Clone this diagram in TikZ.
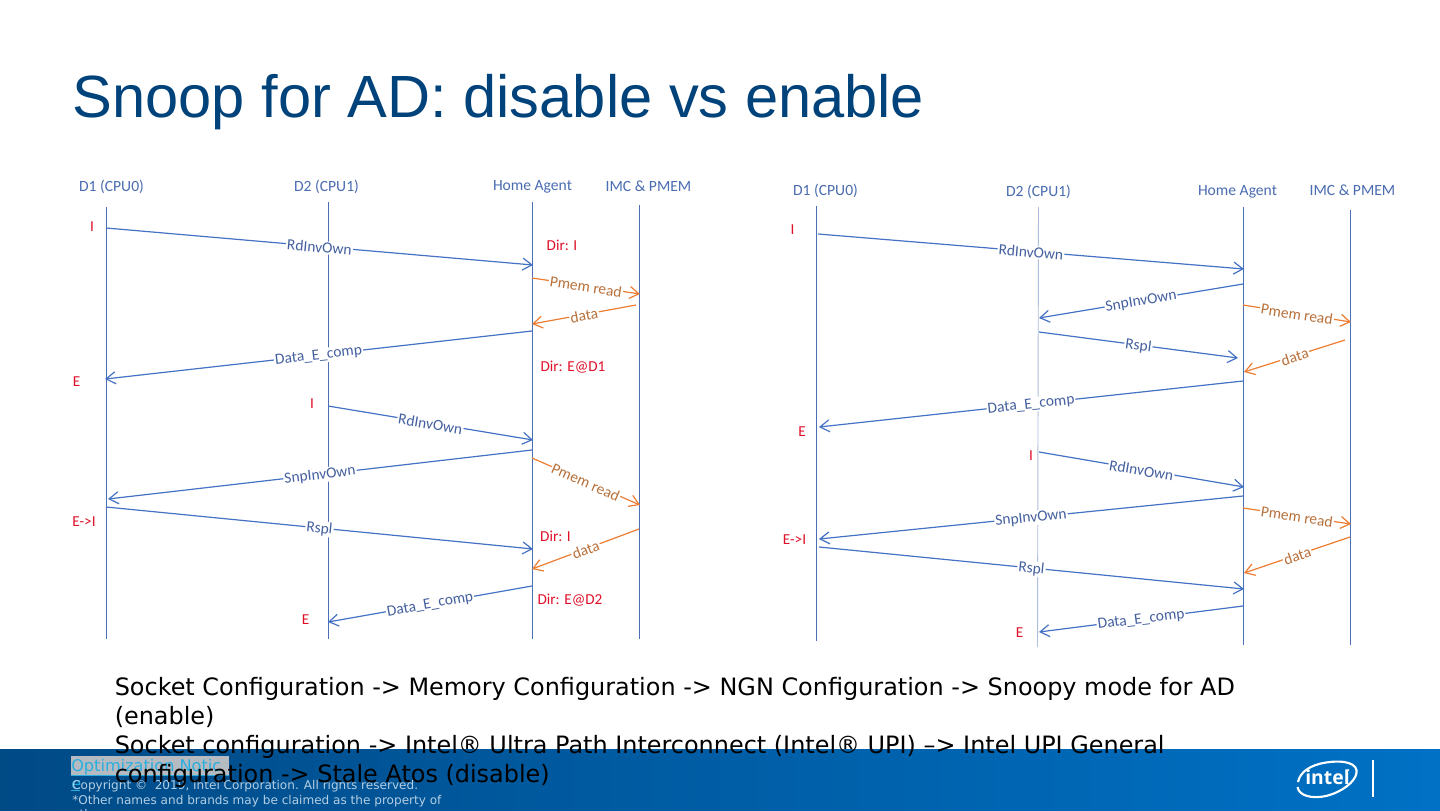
\documentclass[tikz,border=0pt]{standalone}
\usepackage{fontspec}
\setmainfont{Carlito}
\newfontfamily\titlefont{Liberation Sans}
\newfontfamily\bodyfont{DejaVu Sans}
\newfontfamily\logofont{Open Sans}
\usetikzlibrary{arrows.meta,shadings}
\definecolor{msgblue}{HTML}{4472C4}
\definecolor{lifeblue}{HTML}{4A6FB5}
\definecolor{msgorange}{HTML}{ED7D31}
\definecolor{lblblue}{HTML}{44609F}
\definecolor{lblorange}{HTML}{B8703A}
\definecolor{hdrblue}{HTML}{4A6CB0}
\definecolor{statered}{HTML}{E0102A}
\definecolor{titleblue}{HTML}{00427A}
\definecolor{footdark}{HTML}{004A86}
\definecolor{footlight}{HTML}{0071C5}
\definecolor{footgrey}{HTML}{B4CEE4}
\definecolor{linkblue}{HTML}{29AEE0}
\definecolor{linkbox}{HTML}{B5BBC0}
\tikzset{
  x=0.75pt,y=-0.75pt,
  life/.style={draw=lifeblue,line width=0.7pt},
  lifefaint/.style={draw=lifeblue!45,line width=0.7pt},
  msg/.style={draw=msgblue,line width=0.9pt,-{Straight Barb[length=7pt,width=9pt,line width=0.9pt]}},
  omsg/.style={draw=msgorange,line width=0.9pt,-{Straight Barb[length=7pt,width=9pt,line width=0.9pt]}},
  lbl/.style={sloped,fill=white,inner sep=0.8pt,text=lblblue,font=\fontsize{11.6}{13}\selectfont,pos=0.5,yshift=-0.6pt},
  olbl/.style={sloped,fill=white,inner sep=0.8pt,text=lblorange,font=\fontsize{11.6}{13}\selectfont,pos=0.5,yshift=-0.6pt},
  hdr/.style={text=hdrblue,font=\fontsize{11.7}{13}\selectfont,inner sep=0pt},
  state/.style={text=statered,font=\fontsize{11.4}{13}\selectfont,inner sep=0pt},
  bodyline/.style={anchor=base west,inner sep=0pt,text=black,font=\bodyfont\fontsize{17.94}{20}\selectfont},
  footline/.style={anchor=base west,inner sep=0pt,text=footgrey,font=\bodyfont\fontsize{9.05}{10}\selectfont},
  linkline/.style={anchor=base west,inner sep=0pt,text=linkblue,font=\bodyfont\fontsize{12.1}{13}\selectfont},
}
\begin{document}
\begin{tikzpicture}
\useasboundingbox (0,0) rectangle (1440,811);
\fill[white] (0,0) rectangle (1440,811);
\node[anchor=base west,inner sep=0pt,text=titleblue,font=\titlefont\fontsize{44.7}{54}\selectfont] (title) at (72.5,117) {Snoop for AD: disable vs enable};

% left headers
\node[hdr] (la) at (111.5,186.7) {D1 (CPU0)};
\node[hdr] (lb) at (326.5,186.7) {D2 (CPU1)};
\node[hdr] (lc) at (532.5,186.7) {Home Agent};
\node[hdr] (ld) at (648.5,186.7) {IMC \& PMEM};
% right headers
\node[hdr] (ra) at (825.5,191.2) {D1 (CPU0)};
\node[hdr] (rb) at (1038.5,191.7) {D2 (CPU1)};
\node[hdr] (rc) at (1237.5,191.7) {Home Agent};
\node[hdr] (rd) at (1352.5,190.7) {IMC \& PMEM};

% lifelines
\coordinate (a0) at (106.5,207); \coordinate (a1) at (106.5,639);
\coordinate (b0) at (328.5,202); \coordinate (b1) at (328.5,639);
\coordinate (c0) at (532.5,202); \coordinate (c1) at (532.5,639);
\coordinate (d0) at (639.5,205); \coordinate (d1) at (639.5,639);
\coordinate (e0) at (816.5,206); \coordinate (e1) at (816.5,641);
\coordinate (f0) at (1038.5,207); \coordinate (f1) at (1037.5,647);
\coordinate (g0) at (1243.5,207); \coordinate (g1) at (1243.5,645);
\coordinate (h0) at (1350.5,210); \coordinate (h1) at (1350.5,645);
\draw[life] (a0)--(a1);
\draw[life] (b0)--(b1);
\draw[life] (c0)--(c1);
\draw[life] (d0)--(d1);
\draw[life] (e0)--(e1);
\draw[lifefaint] (f0)--(f1);
\draw[life] (g0)--(g1);
\draw[life] (h0)--(h1);

% left message ends
\coordinate (m1s) at (106,228); \coordinate (m1e) at (533,265);
\coordinate (m2s) at (532,278); \coordinate (m2e) at (640,294);
\coordinate (m3s) at (636,305); \coordinate (m3e) at (532,324);
\coordinate (m4s) at (532,331); \coordinate (m4e) at (105,379);
\coordinate (m5s) at (328,406); \coordinate (m5e) at (533,440);
\coordinate (m6s) at (532,450); \coordinate (m6e) at (108,499);
\coordinate (m7s) at (532,458); \coordinate (m7e) at (640,505);
\coordinate (m8s) at (106,507); \coordinate (m8e) at (533,549);
\coordinate (m9s) at (639,529); \coordinate (m9e) at (532,569);
\coordinate (m10s) at (532,586); \coordinate (m10e) at (328,622);
\draw[msg] (m1s)--node[lbl]{RdInvOwn}(m1e);
\draw[omsg] (m2s)--node[olbl]{Pmem read}(m2e);
\draw[omsg] (m3s)--node[olbl]{data}(m3e);
\draw[msg] (m4s)--node[lbl]{Data\_E\_comp}(m4e);
\draw[msg] (m5s)--node[lbl]{RdInvOwn}(m5e);
\draw[msg] (m6s)--node[lbl]{SnpInvOwn}(m6e);
\draw[omsg] (m7s)--node[olbl]{Pmem read}(m7e);
\draw[msg] (m8s)--node[lbl]{Rspl}(m8e);
\draw[omsg] (m9s)--node[olbl]{data}(m9e);
\draw[msg] (m10s)--node[lbl]{Data\_E\_comp}(m10e);

% right message ends
\coordinate (n1s) at (818,234); \coordinate (n1e) at (1244,269);
\coordinate (n2s) at (1243,284); \coordinate (n2e) at (1039,318);
\coordinate (n3s) at (1243,305); \coordinate (n3e) at (1351,322);
\coordinate (n4s) at (1039,332); \coordinate (n4e) at (1238,358);
\coordinate (n5s) at (1345,340); \coordinate (n5e) at (1244,372);
\coordinate (n6s) at (1243,381); \coordinate (n6e) at (819,427);
\coordinate (n7s) at (1039,452); \coordinate (n7e) at (1244,487);
\coordinate (n8s) at (1243,496); \coordinate (n8e) at (819,539);
\coordinate (n9s) at (1243,508); \coordinate (n9e) at (1351,524);
\coordinate (n10s) at (1350,537); \coordinate (n10e) at (1244,573);
\coordinate (n11s) at (819,547); \coordinate (n11e) at (1244,589);
\coordinate (n12s) at (1243,606); \coordinate (n12e) at (1039,632);
\draw[msg] (n1s)--node[lbl]{RdInvOwn}(n1e);
\draw[msg] (n2s)--node[lbl]{SnpInvOwn}(n2e);
\draw[omsg] (n3s)--node[olbl]{Pmem read}(n3e);
\draw[msg] (n4s)--node[lbl]{Rspl}(n4e);
\draw[omsg] (n5s)--node[olbl]{data}(n5e);
\draw[msg] (n6s)--node[lbl]{Data\_E\_comp}(n6e);
\draw[msg] (n7s)--node[lbl]{RdInvOwn}(n7e);
\draw[msg] (n8s)--node[lbl]{SnpInvOwn}(n8e);
\draw[omsg] (n9s)--node[olbl]{Pmem read}(n9e);
\draw[omsg] (n10s)--node[olbl]{data}(n10e);
\draw[msg] (n11s)--node[lbl]{Rspl}(n11e);
\draw[msg] (n12s)--node[lbl]{Data\_E\_comp}(n12e);

% state labels left
\node[state] (s1) at (92,227) {I};
\node[state] (s2) at (562,245.5) {Dir: I};
\node[state] (s3) at (573,367) {Dir: E@D1};
\node[state] (s4) at (76.5,381.5) {E};
\node[state] (s5) at (312,403.5) {I};
\node[state] (s6) at (84,521.5) {E->I};
\node[state] (s7) at (555.5,536) {Dir: I};
\node[state] (s8) at (570,600.5) {Dir: E@D2};
\node[state] (s9) at (305.5,619.5) {E};
% state labels right
\node[state] (t1) at (792.5,230) {I};
\node[state] (t2) at (802,431.5) {E};
\node[state] (t3) at (1031,456) {I};
\node[state] (t4) at (794.5,539.5) {E->I};
\node[state] (t5) at (1019.5,632.5) {E};

% footer
\shade[left color=footdark,right color=footlight,shading angle=90] (0,749) rectangle (1440,811);
\fill[linkbox] (71,755.5) rectangle (229,775);
\node[linkline] (opt) at (71,771) {Optimization Notic};
\draw[linkblue,line width=0.7pt] (71,775) -- (229,775);
\node[linkline] (opt2) at (71,789) {e};
\draw[linkblue,line width=0.7pt] (71,790.5) -- (80,790.5);
\node[footline] (cp) at (72,789) {Copyright ©\ \ 2019, Intel Corporation. All rights reserved.};
\node[footline] (oth) at (72,804) {*Other names and brands may be claimed as the property of};
\begin{scope}
\clip (0,749) rectangle (1440,811);
\node[footline] (oth2) at (72,818.5) {others.};
\end{scope}

% body
\node[bodyline] (b1t) at (114.5,695) {Socket Configuration -> Memory Configuration -> NGN Configuration -> Snoopy mode for AD};
\node[bodyline] (b2t) at (114.5,724) {(enable)};
\node[bodyline] (b3t) at (114.5,753) {Socket configuration -> Intel® Ultra Path Interconnect (Intel® UPI) –> Intel UPI General};
\node[bodyline] (b4t) at (114.5,782) {configuration -> Stale Atos (disable)};

% intel logo
\draw[white,line width=1.6pt] (1298,782) .. controls (1300,772) and (1310,765) .. (1326,762.5) .. controls (1346,759.5) and (1358,764) .. (1356.5,773) .. controls (1355,782) and (1342,792) .. (1326,796) .. controls (1312,799) and (1299,796) .. (1297.5,787);
\node[text=white,inner sep=0pt,font=\logofont\bfseries\fontsize{14.5}{16}\selectfont] (intel) at (1327.5,777.5) {intel};
\fill[white] (1348.5,770) circle (0.9);
\draw[white,line width=0.8pt] (1373,760) -- (1373,797);
\end{tikzpicture}
\end{document}
